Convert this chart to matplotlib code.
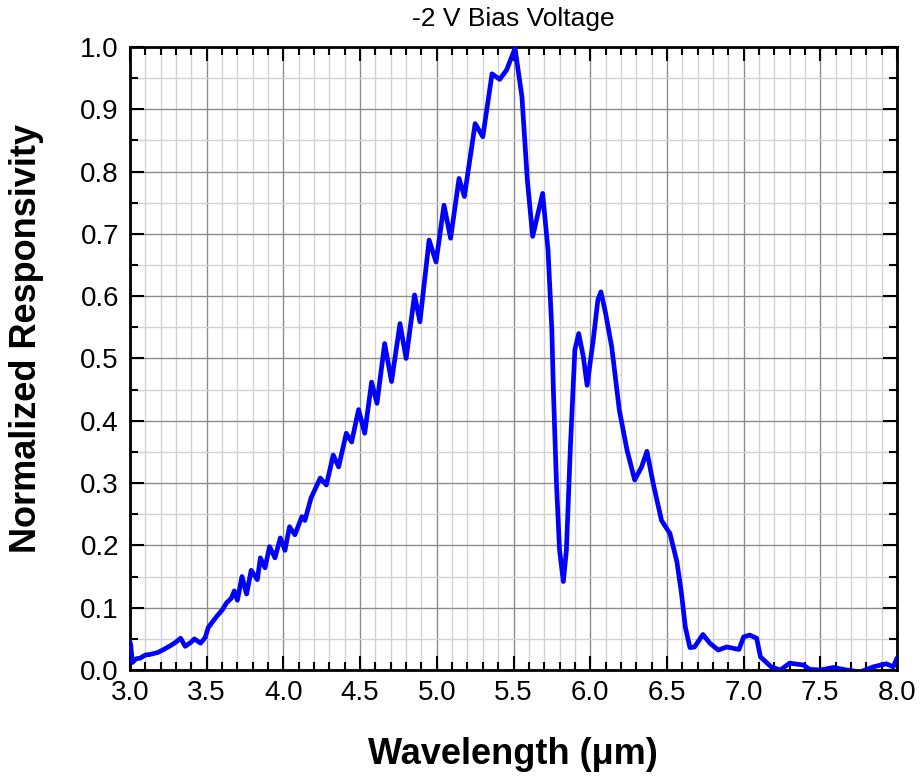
import matplotlib
matplotlib.use("Agg")
import matplotlib.pyplot as plt
from matplotlib.ticker import MultipleLocator

plt.rcParams['font.family'] = ['Liberation Sans', 'DejaVu Sans']

wavelength = [3.00, 3.005, 3.015, 3.04, 3.065, 3.10, 3.13, 3.18, 3.22, 3.27, 3.30, 3.33,
              3.36, 3.40, 3.42, 3.46, 3.49, 3.51, 3.54, 3.565, 3.60, 3.63, 3.66, 3.68,
              3.70, 3.73, 3.76, 3.79, 3.83, 3.85, 3.88, 3.91, 3.945, 3.98, 4.01, 4.04,
              4.075, 4.12, 4.14, 4.18, 4.24, 4.28, 4.325, 4.36, 4.41, 4.445, 4.49, 4.53,
              4.575, 4.61, 4.66, 4.705, 4.76, 4.80, 4.855, 4.89, 4.95, 4.995, 5.047, 5.09,
              5.145, 5.18, 5.25, 5.30, 5.36, 5.41, 5.455, 5.51, 5.555, 5.59, 5.625, 5.69,
              5.725, 5.75, 5.76, 5.78, 5.80, 5.825, 5.845, 5.87, 5.90, 5.925, 5.955, 5.98,
              6.02, 6.05, 6.07, 6.10, 6.14, 6.19, 6.24, 6.29, 6.335, 6.37, 6.41, 6.465,
              6.52, 6.565, 6.595, 6.62, 6.65, 6.68, 6.735, 6.78, 6.835, 6.89, 6.97, 7.00,
              7.04, 7.085, 7.11, 7.18, 7.24, 7.30, 7.39, 7.43, 7.50, 7.585, 7.67, 7.76,
              7.845, 7.93, 7.975, 8.00]
responsivity = [0.045, 0.040, 0.012, 0.018, 0.019, 0.024, 0.025, 0.028, 0.033, 0.040, 0.045, 0.051,
                0.038, 0.045, 0.050, 0.043, 0.052, 0.068, 0.078, 0.086, 0.096, 0.108, 0.115, 0.127,
                0.112, 0.150, 0.122, 0.160, 0.145, 0.180, 0.164, 0.198, 0.180, 0.212, 0.192, 0.230,
                0.217, 0.246, 0.240, 0.276, 0.308, 0.297, 0.345, 0.326, 0.380, 0.366, 0.418, 0.380,
                0.462, 0.428, 0.524, 0.463, 0.556, 0.500, 0.602, 0.559, 0.690, 0.655, 0.746, 0.693,
                0.789, 0.760, 0.877, 0.856, 0.957, 0.948, 0.963, 0.998, 0.920, 0.787, 0.696, 0.765,
                0.674, 0.546, 0.449, 0.300, 0.193, 0.142, 0.193, 0.353, 0.514, 0.540, 0.503, 0.457,
                0.530, 0.594, 0.607, 0.573, 0.519, 0.417, 0.353, 0.305, 0.326, 0.351, 0.300, 0.240,
                0.219, 0.174, 0.123, 0.069, 0.036, 0.037, 0.057, 0.043, 0.032, 0.037, 0.033, 0.053,
                0.056, 0.051, 0.021, 0.005, 0.000, 0.011, 0.008, 0.001, 0.000, 0.004, 0.000, -0.003,
                0.005, 0.010, 0.005, 0.019]

fig = plt.figure(figsize=(9.22, 7.8), dpi=100)
ax = fig.add_axes([130/922, 110/780, 767/922, 623/780])

ax.plot(wavelength, responsivity, color='#0000ff', lw=3.4, solid_joinstyle='round',
        solid_capstyle='round', zorder=3)

ax.set_xlim(3.0, 8.0)
ax.set_ylim(0.0, 1.0)
ax.xaxis.set_major_locator(MultipleLocator(0.5))
ax.xaxis.set_minor_locator(MultipleLocator(0.1))
ax.yaxis.set_major_locator(MultipleLocator(0.1))
ax.yaxis.set_minor_locator(MultipleLocator(0.05))

ax.grid(which='major', color='#8c8c8c', lw=1.0, zorder=0)
ax.grid(which='minor', color='#d2d2d2', lw=1.0, zorder=0)
ax.set_axisbelow(True)

ax.tick_params(which='both', direction='in', top=True, right=True, width=1.5, colors='black')
ax.tick_params(which='major', length=10, labelsize=20)
ax.tick_params(axis='x', which='major', pad=7)
ax.tick_params(axis='y', which='major', pad=8)
ax.tick_params(which='minor', length=6)
for s in ax.spines.values():
    s.set_linewidth(2.0)
    s.set_color('black')

ax.set_xticklabels([f"{v:.1f}" for v in ax.get_xticks()])
ax.set_yticklabels([f"{v:.1f}" for v in ax.get_yticks()])
ax.set_xlim(3.0, 8.0)
ax.set_ylim(0.0, 1.0)

ax.set_title('-2 V Bias Voltage', fontsize=19, pad=15)
ax.set_xlabel('Wavelength (\u03bcm)', fontsize=26, fontweight='bold')
ax.set_ylabel('Normalized Responsivity', fontsize=26, fontweight='bold')
ax.xaxis.set_label_coords((513 - 130) / 767, (670 - 755) / 623)
ax.yaxis.set_label_coords((27 - 130) / 767, (670 - 338) / 623)
ax.xaxis.label.set_va('center')
ax.yaxis.label.set_va('center')

fig.savefig('out.png', dpi=100)
